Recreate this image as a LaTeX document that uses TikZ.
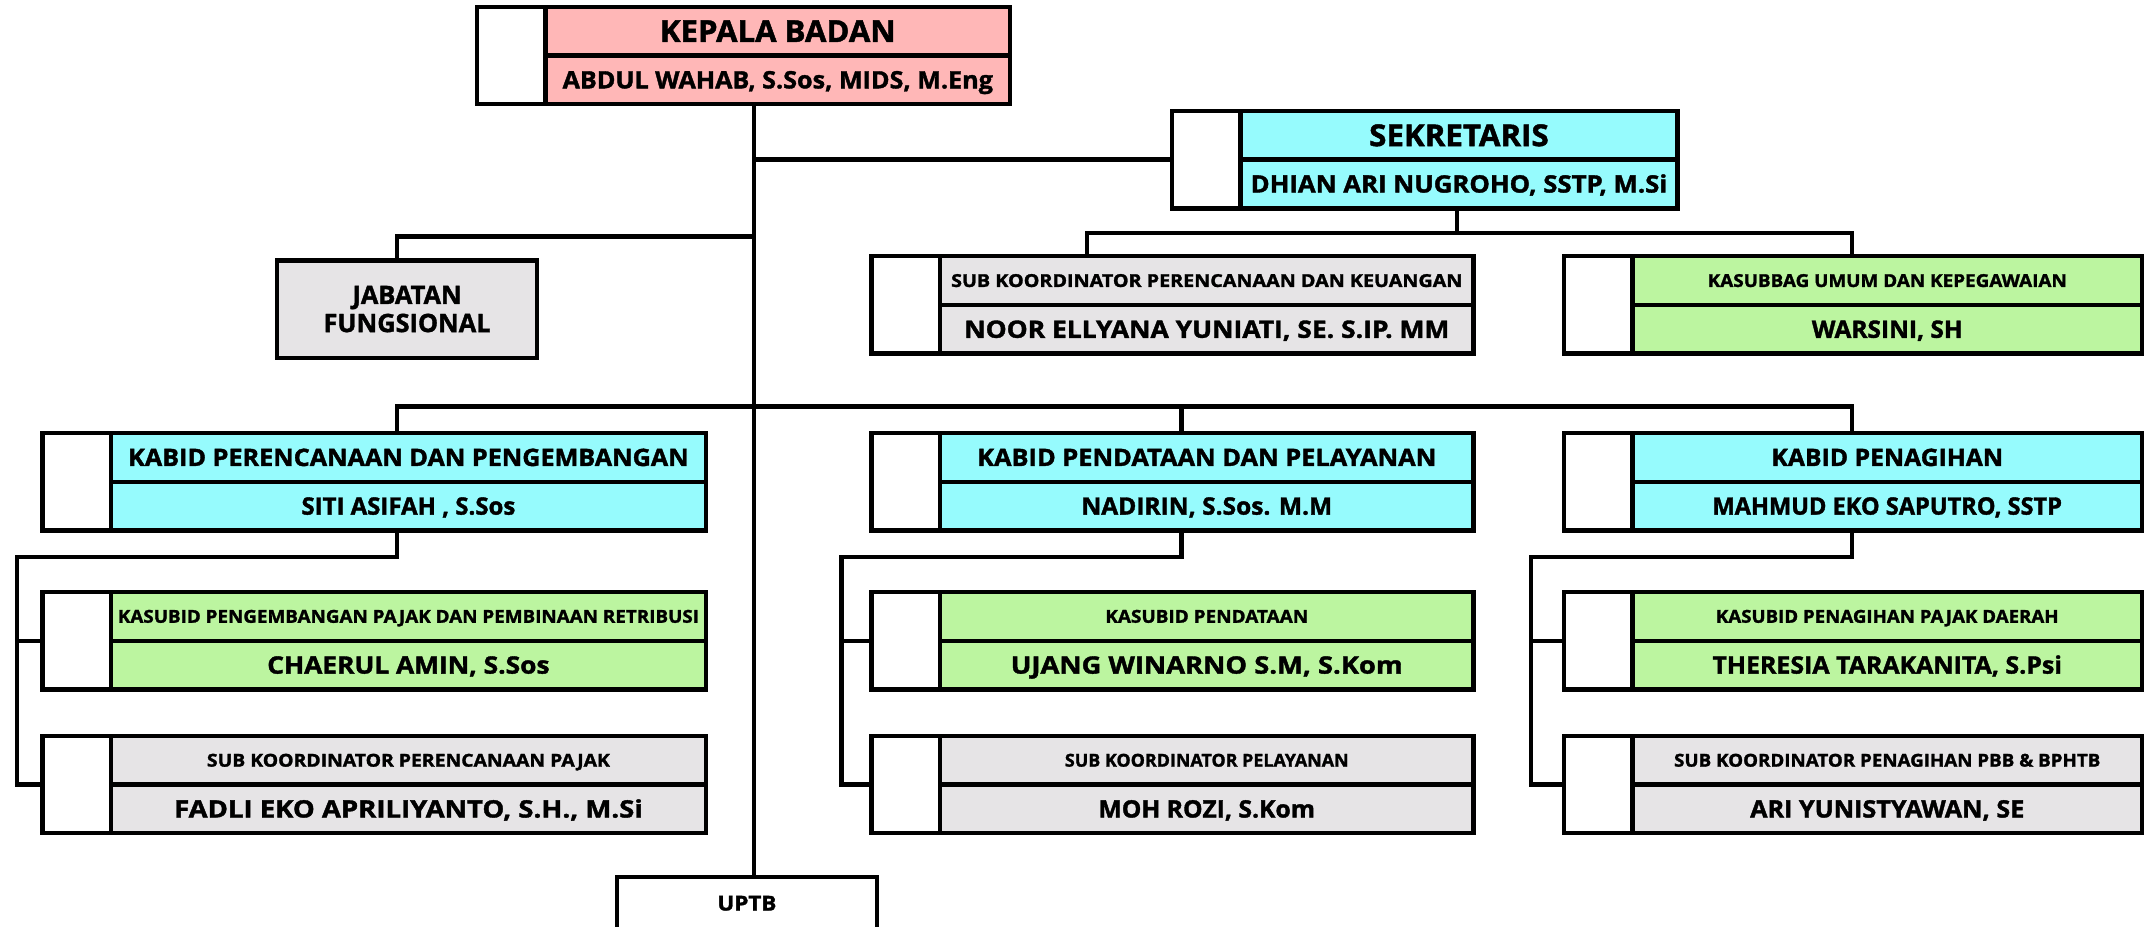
\documentclass[tikz,border=0pt]{standalone}
\usepackage{fontspec}
\usepackage{graphicx}
\setmainfont{Open Sans}[BoldFeatures={FakeBold=1.5}]
\usetikzlibrary{calc}
\definecolor{pinkc}{HTML}{FFB7B7}
\definecolor{cyanc}{HTML}{96FBFD}
\definecolor{greenc}{HTML}{BCF5A0}
\definecolor{greyc}{HTML}{E6E4E6}
\newsavebox\fitbox
% set #2 and stretch it horizontally to the width #1 (pt)
\newcommand\fitw[2]{\sbox\fitbox{#2}\pgfmathsetmacro\fitf{#1/\wd\fitbox}\scalebox{\fitf}[1]{\usebox\fitbox}}
\tikzset{
  ln/.style={line width=3.2pt, line cap=rect, line join=miter},
  obox/.style={rectangle, draw, line width=3.2pt, minimum height=71pt, inner sep=0pt, outer sep=0pt},
  orgsz/.store in=\orgsz, orgw/.store in=\orgw,
  txt/.style={inner sep=0pt, anchor=base, #1,
    font=\fontsize{\orgsz}{\orgsz}\selectfont\bfseries, yshift={-0.357*\orgsz}},
}
% name, x, y, width, colour, title, {title size, title width}, person, {person size, person width}
\newcommand\OB[9]{%
  \node[obox, fill=#5, minimum width=#4pt, anchor=north west] (#1) at (#2,#3) {};
  \fill[white] (#1.north west) rectangle ([xshift=50pt]#1.south west);
  \draw[ln] ([xshift=50pt]#1.north west) -- ([xshift=50pt]#1.south west);
  \draw[ln] ([xshift=50pt]#1.west) -- (#1.east);
  \node[txt={#7}] (#1-t) at ([shift={(25,17.75)}]#1.north) {\fitw{\orgw}{#6}};
  \node[txt={#9}] (#1-n) at ([shift={(25,-17.75)}]#1.south) {\fitw{\orgw}{#8}};
  \draw[ln] (#1.north west) rectangle (#1.south east);
}
\begin{document}
\begin{tikzpicture}[x=1pt,y=-1pt]
\useasboundingbox (0,0) rectangle (1568,676);
\clip (0,0) rectangle (1568,676);
% boxes
\OB{kb}{348}{5}{389}{pinkc}{KEPALA BADAN}{orgsz=22,orgw=172}{ABDUL WAHAB, S.Sos, MIDS, M.Eng}{orgsz=17.5,orgw=314}
\OB{sek}{855}{81}{369}{cyanc}{SEKRETARIS}{orgsz=22,orgw=131}{DHIAN ARI NUGROHO, SSTP, M.Si}{orgsz=17.5,orgw=304}
\node[obox, fill=greyc, minimum width=190pt, anchor=north west, align=center,
  font=\fontsize{18.5}{20.5}\selectfont\bfseries] (jf) at (202,190) {JABATAN\\FUNGSIONAL};
\OB{skk}{636}{187}{439}{greyc}{SUB KOORDINATOR PERENCANAAN DAN KEUANGAN}{orgsz=13,orgw=373}{NOOR ELLYANA YUNIATI, SE. S.IP. MM}{orgsz=17.5,orgw=354}
\OB{kum}{1141}{187}{422}{greenc}{KASUBBAG UMUM DAN KEPEGAWAIAN}{orgsz=13,orgw=262}{WARSINI, SH}{orgsz=17.5,orgw=110}
\OB{kp}{31}{316}{484}{cyanc}{KABID PERENCANAAN DAN PENGEMBANGAN}{orgsz=17.5,orgw=409}{SITI ASIFAH , S.Sos}{orgsz=17.5,orgw=156}
\OB{kd}{636}{316}{439}{cyanc}{KABID PENDATAAN DAN PELAYANAN}{orgsz=17.5,orgw=335}{NADIRIN, S.Sos. M.M}{orgsz=17.5,orgw=183}
\OB{kg}{1141}{316}{422}{cyanc}{KABID PENAGIHAN}{orgsz=17.5,orgw=169}{MAHMUD EKO SAPUTRO, SSTP}{orgsz=17.5,orgw=255}
\OB{sp1}{31}{432}{484}{greenc}{KASUBID PENGEMBANGAN PAJAK DAN PEMBINAAN RETRIBUSI}{orgsz=13,orgw=424}{CHAERUL AMIN, S.Sos}{orgsz=17.5,orgw=206}
\OB{sd1}{636}{432}{439}{greenc}{KASUBID PENDATAAN}{orgsz=13,orgw=148}{UJANG WINARNO S.M, S.Kom}{orgsz=17.5,orgw=286}
\OB{sg1}{1141}{432}{422}{greenc}{KASUBID PENAGIHAN PAJAK DAERAH}{orgsz=13,orgw=250}{THERESIA TARAKANITA, S.Psi}{orgsz=17.5,orgw=255}
\OB{sp2}{31}{537}{484}{greyc}{SUB KOORDINATOR PERENCANAAN PAJAK}{orgsz=13,orgw=294}{FADLI EKO APRILIYANTO, S.H., M.Si}{orgsz=17.5,orgw=342}
\OB{sd2}{636}{537}{439}{greyc}{SUB KOORDINATOR PELAYANAN}{orgsz=13,orgw=207}{MOH ROZI, S.Kom}{orgsz=17.5,orgw=158}
\OB{sg2}{1141}{537}{422}{greyc}{SUB KOORDINATOR PENAGIHAN PBB \& BPHTB}{orgsz=13,orgw=311}{ARI YUNISTYAWAN, SE}{orgsz=17.5,orgw=200}
\node[obox, fill=white, minimum width=190pt, minimum height=60pt, anchor=north west] (up) at (450,640) {};
\node[txt={orgsz=15,orgw=43}] (upt) at ([yshift=-19pt]up.north) {\fitw{\orgw}{UPTB}};
% junction coordinates
\coordinate (xT) at (550,0);
\coordinate (xL) at (289.5,0);
\coordinate (xM) at (862,0);
\coordinate (xR) at (1351.5,0);
\coordinate (xSK) at (793,0);
\coordinate (xSec) at (1063,0);
\coordinate (xLL) at (12.5,0);
\coordinate (xML) at (614,0);
\coordinate (xRL) at (1117,0);
\coordinate (yJ) at (0,172.5);
\coordinate (ySec) at (0,170);
\coordinate (yK) at (0,296.5);
\coordinate (ySub) at (0,406.5);
% connectors
\draw[ln] (kb.south -| xT) -- (up.north -| xT);
\draw[ln] (sek.west -| xT) -- (sek.west);
\draw[ln] (yJ -| xT) -- (yJ -| xL) -- (jf.north -| xL);
\draw[ln] (sek.south -| xSec) -- (ySec -| xSec);
\draw[ln] (skk.north -| xSK) -- (ySec -| xSK) -- (ySec -| xR) -- (kum.north -| xR);
\draw[ln] (kp.north -| xL) -- (yK -| xL) -- (yK -| xR) -- (kg.north -| xR);
\draw[ln] (yK -| xM) -- (kd.north -| xM);
% sub-branches
\draw[ln] (kp.south -| xL) -- (ySub -| xL) -- (ySub -| xLL) -- (sp2.west -| xLL) -- (sp2.west);
\draw[ln] (sp1.west -| xLL) -- (sp1.west);
\draw[ln] (kd.south -| xM) -- (ySub -| xM) -- (ySub -| xML) -- (sd2.west -| xML) -- (sd2.west);
\draw[ln] (sd1.west -| xML) -- (sd1.west);
\draw[ln] (kg.south -| xR) -- (ySub -| xR) -- (ySub -| xRL) -- (sg2.west -| xRL) -- (sg2.west);
\draw[ln] (sg1.west -| xRL) -- (sg1.west);
\end{tikzpicture}
\end{document}
